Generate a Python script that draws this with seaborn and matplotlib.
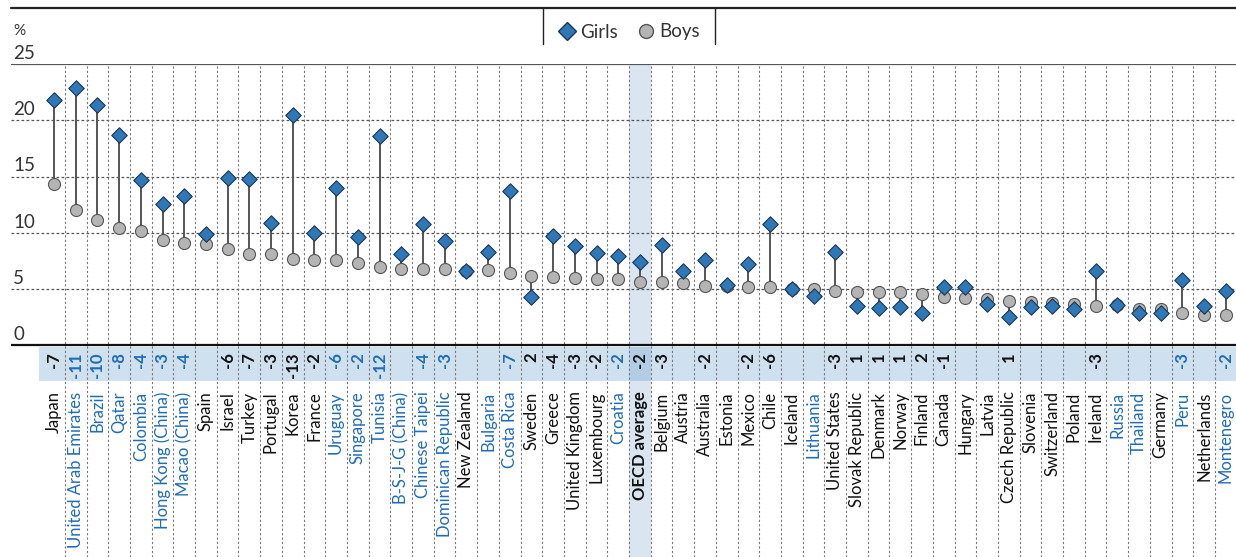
import matplotlib
matplotlib.use("Agg")
import matplotlib.pyplot as plt
import seaborn as sns
import pandas as pd
import numpy as np
from matplotlib.lines import Line2D
from matplotlib.patches import Rectangle

countries = ["Japan", "United Arab Emirates", "Brazil", "Qatar", "Colombia",
             "Hong Kong (China)", "Macao (China)", "Spain", "Israel", "Turkey",
             "Portugal", "Korea", "France", "Uruguay", "Singapore", "Tunisia",
             "B-S-J-G (China)", "Chinese Taipei", "Dominican Republic", "New Zealand",
             "Bulgaria", "Costa Rica", "Sweden", "Greece", "United Kingdom",
             "Luxembourg", "Croatia", "OECD average", "Belgium", "Austria",
             "Australia", "Estonia", "Mexico", "Chile", "Iceland", "Lithuania",
             "United States", "Slovak Republic", "Denmark", "Norway", "Finland",
             "Canada", "Hungary", "Latvia", "Czech Republic", "Slovenia",
             "Switzerland", "Poland", "Ireland", "Russia", "Thailand", "Germany",
             "Peru", "Netherlands", "Montenegro"]

girls = [21.8, 22.9, 21.4, 18.7, 14.7, 12.6, 13.3, 9.9, 14.9, 14.8,
         10.9, 20.5, 10.0, 14.0, 9.6, 18.6, 8.1, 10.8, 9.3, 6.6,
         8.3, 13.7, 4.3, 9.7, 8.8, 8.2, 7.9, 7.4, 8.9, 6.6,
         7.6, 5.4, 7.2, 10.8, 5.0, 4.4, 8.3, 3.5, 3.3, 3.4,
         2.9, 5.2, 5.2, 3.7, 2.55, 3.4, 3.45, 3.2, 6.6, 3.6,
         2.9, 2.9, 5.8, 3.5, 4.85]

boys = [14.3, 12.0, 11.1, 10.4, 10.2, 9.4, 9.1, 9.0, 8.6, 8.15,
        8.1, 7.7, 7.6, 7.6, 7.3, 7.0, 6.75, 6.75, 6.75, 6.6,
        6.7, 6.4, 6.2, 6.1, 6.0, 5.9, 5.85, 5.65, 5.6, 5.5,
        5.3, 5.3, 5.2, 5.2, 5.0, 5.0, 4.8, 4.75, 4.75, 4.75,
        4.6, 4.25, 4.2, 4.1, 3.95, 3.85, 3.75, 3.7, 3.5, 3.55,
        3.2, 3.2, 2.9, 2.7, 2.65]

diff = ["-7", "-11", "-10", "-8", "-4", "-3", "-4", "", "-6", "-7",
        "-3", "-13", "-2", "-6", "-2", "-12", "", "-4", "-3", "",
        "", "-7", "2", "-4", "-3", "-2", "-2", "-2", "-3", "",
        "-2", "", "-2", "-6", "", "", "-3", "1", "1", "1",
        "2", "-1", "", "", "1", "", "", "", "-3", "",
        "", "", "-3", "", "-2"]

partners = ["United Arab Emirates", "Brazil", "Qatar", "Colombia", "Hong Kong (China)",
            "Macao (China)", "Uruguay", "Singapore", "Tunisia", "B-S-J-G (China)",
            "Chinese Taipei", "Dominican Republic", "Bulgaria", "Costa Rica", "Croatia",
            "Lithuania", "Russia", "Thailand", "Peru", "Montenegro"]

yticks = [0, 5, 10, 15, 20, 25]

BLUE_TXT = "#1f6db5"
GIRL = "#2e78b8"
BOY = "#b4b4b4"

sns.set_theme(style="white")
plt.rcParams['font.family'] = ['Lato', 'DejaVu Sans']

n = len(countries)
xs = np.arange(n)
df = pd.DataFrame({"x": np.concatenate([xs, xs]),
                   "value": girls + boys,
                   "sex": ["Girls"] * n + ["Boys"] * n})

W, H = 1236, 557
fig = plt.figure(figsize=(W / 100, H / 100), dpi=100)
top_px, zero_px, bot_px = 64, 345.3, 381
ax = fig.add_axes([11 / W, (H - bot_px) / H, (W - 11) / W, (bot_px - top_px) / H])
scale = (zero_px - top_px) / 25.0
ymin = -(bot_px - zero_px) / scale
fig_bottom_val = -(H - zero_px) / scale
ax.set_ylim(ymin, 25)
x0 = -(54 - 11) / 21.7
x1 = (W - 54) / 21.7
ax.set_xlim(x0, x1)
for s in ax.spines.values():
    s.set_visible(False)
ax.set_yticks([])

oecd_i = countries.index("OECD average")

# OECD band through plot area and label area
ax.add_patch(Rectangle((oecd_i - 0.5, 0), 1, 25, color="#d9e6f2", lw=0, zorder=0))
ax.add_patch(Rectangle((oecd_i - 0.5, fig_bottom_val), 1, ymin - fig_bottom_val,
                       color="#d9e6f2", lw=0, zorder=0, clip_on=False))
# difference row
row_top = -(347 - zero_px) / scale
rx0 = (39 - 54) / 21.7
ax.add_patch(Rectangle((rx0, ymin), x1 - rx0, row_top - ymin, color="#cfe0ef", lw=0, zorder=0.5))
ax.add_patch(Rectangle((oecd_i - 0.5, ymin), 1, row_top - ymin, color="#b3cde4", lw=0, zorder=0.6))

# gridlines
ax.hlines([5, 10, 15, 20], x0, x1, colors="#555555", linestyles=(0, (2.2, 1.8)), lw=0.9, zorder=1)
ax.hlines([25], x0, x1, colors="#555555", lw=1.6, zorder=1)
ax.hlines([0], x0, x1, colors="#111111", lw=1.6, zorder=3)
ax.vlines(xs[:-1] + 0.5, fig_bottom_val, 25, colors="#777777", linestyles=(0, (2.0, 2.0)),
          lw=0.8, zorder=1, clip_on=False)

# y labels
for v in yticks:
    ax.text(x0 + 0.1, v + 0.2, str(v), ha="left", va="bottom", fontsize=13.5, color="#333333")
ax.text(x0 + 0.1, (zero_px - 38) / scale, "%", ha="left", va="bottom", fontsize=11, color="#333333")

# stems
ax.vlines(xs, boys, girls, colors="#555555", lw=1.4, zorder=2)

sns.scatterplot(data=df[df.sex == "Boys"], x="x", y="value", marker="o", s=75,
                color=BOY, edgecolor="#555555", linewidth=0.8, zorder=4, ax=ax, legend=False)
sns.scatterplot(data=df[df.sex == "Girls"], x="x", y="value", marker="D", s=62,
                color=GIRL, edgecolor="#1c3550", linewidth=0.8, zorder=5, ax=ax, legend=False)
ax.set_xlabel("")
ax.set_ylabel("")

# country labels
ax.set_xticks(xs)
ax.set_xticklabels(countries, rotation=90, fontsize=12)
ax.tick_params(axis="x", length=0, pad=7.5)
for lab, c in zip(ax.get_xticklabels(), countries):
    if c in partners:
        lab.set_color(BLUE_TXT)
    else:
        lab.set_color("#111111")
    if c == "OECD average":
        lab.set_fontweight("bold")

# difference numbers
dy = -(352 - zero_px) / scale
for i, (d, c) in enumerate(zip(diff, countries)):
    if d:
        ax.text(i, dy, d, rotation=90, ha="center", va="top", fontsize=12, fontweight="bold",
                color=BLUE_TXT if c in partners else "#111111", zorder=4)

# top frame lines and legend
fig.add_artist(Line2D([11 / W, 1], [1 - 8 / H, 1 - 8 / H], color="#222222", lw=1.6))
for px in (543, 715):
    fig.add_artist(Line2D([px / W, px / W], [1 - 8 / H, 1 - 44 / H], color="#222222", lw=1.0))
handles = [Line2D([], [], marker="D", ls="", color=GIRL, markeredgecolor="#1c3550", markersize=9),
           Line2D([], [], marker="o", ls="", color=BOY, markeredgecolor="#555555", markersize=10)]
fig.legend(handles, ["Girls", "Boys"], loc="center", bbox_to_anchor=(629 / W, 1 - 32 / H),
           ncol=2, frameon=False, fontsize=13.5, handletextpad=0.2, columnspacing=1.0,
           handlelength=1.0, labelcolor="#333333")

fig.savefig("out.png", dpi=100)
